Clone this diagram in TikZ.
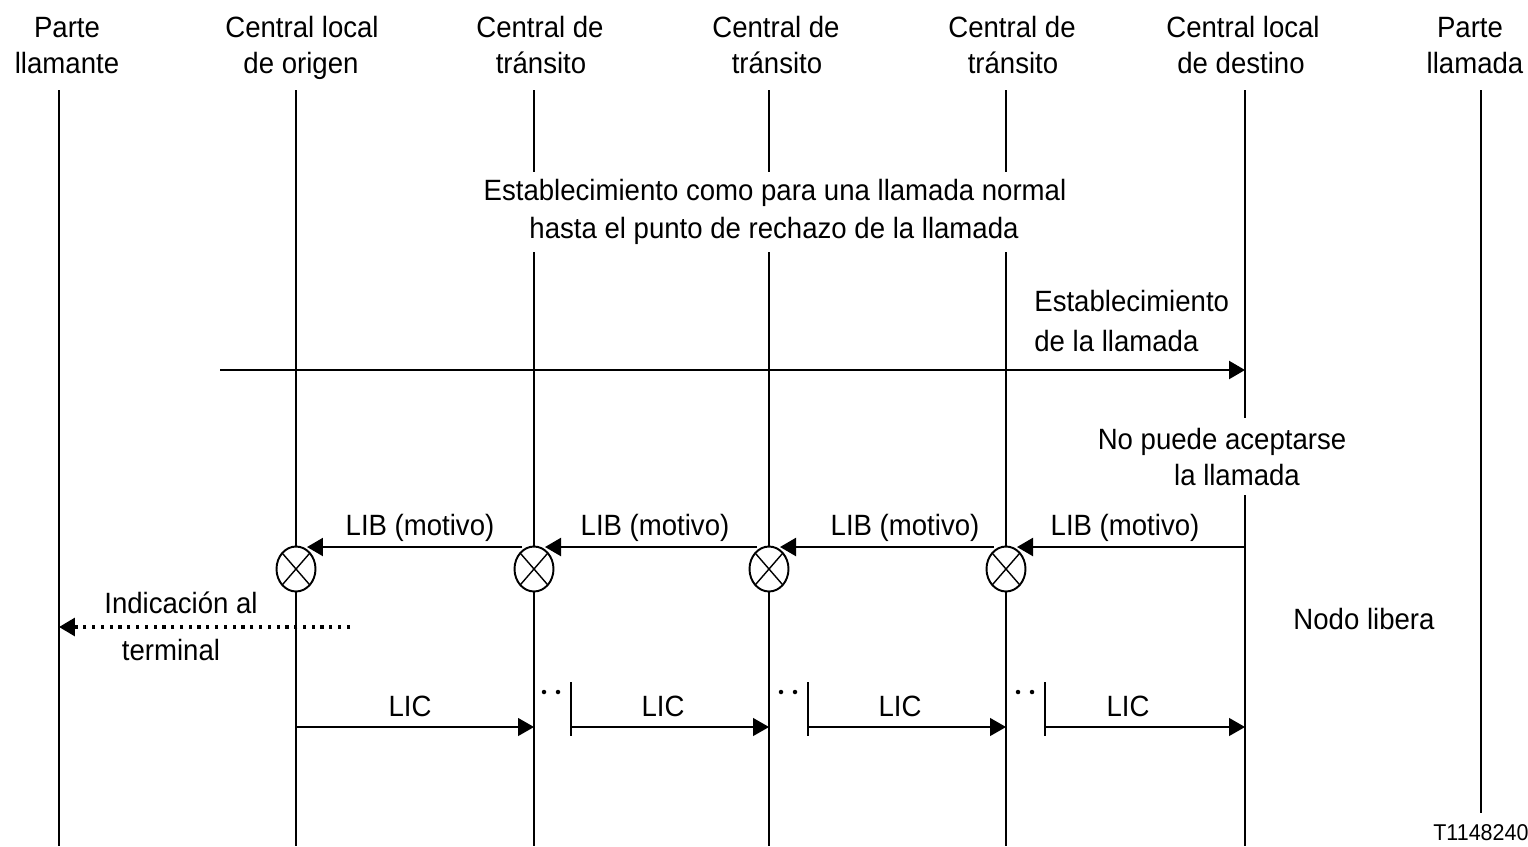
\documentclass[tikz,border=0pt]{standalone}
\usepackage{fontspec}
\setmainfont{Liberation Sans}[FakeStretch=0.94]
\usetikzlibrary{arrows.meta,shapes.geometric}
\tikzset{
  lbl/.style={font=\fontsize{16.7}{20}\selectfont, inner sep=0pt, anchor=base},
  small/.style={font=\fontsize{13}{15}\selectfont, inner sep=0pt, anchor=base west},
  life/.style={line width=1.3pt},
  tip/.style={-{Triangle[length=0.32cm,width=0.36cm]}},
  msg/.style={line width=1.3pt, tip},
  lic/.style={line width=0.7pt, tip},
  bar/.style={line width=0.7pt},
  dotmsg/.style={line width=1.8pt, dash pattern=on 1.8pt off 3.2pt, tip},
  xcirc/.style={ellipse, draw, line width=1.1pt, fill=white, minimum width=0.78cm, minimum height=0.9cm, inner sep=0pt,
    path picture={\draw[line width=0.8pt] (path picture bounding box.south west) -- (path picture bounding box.north east)
      (path picture bounding box.north west) -- (path picture bounding box.south east);}},
}
\begin{document}
\begin{tikzpicture}[x=0.02cm,y=-0.02cm]
\useasboundingbox (0,0) rectangle (1528,846);
% header labels
\node[lbl] (h1a) at (67,37) {Parte};
\node[lbl] (h1b) at (67,73) {llamante};
\node[lbl] (h2a) at (302,37) {Central local};
\node[lbl] (h2b) at (301,73) {de origen};
\node[lbl] (h3a) at (540,37) {Central de};
\node[lbl] (h3b) at (541,73) {tránsito};
\node[lbl] (h4a) at (776,37) {Central de};
\node[lbl] (h4b) at (777,73) {tránsito};
\node[lbl] (h5a) at (1012,37) {Central de};
\node[lbl] (h5b) at (1013,73) {tránsito};
\node[lbl] (h6a) at (1243,37) {Central local};
\node[lbl] (h6b) at (1241,73) {de destino};
\node[lbl] (h7a) at (1470,37) {Parte};
\node[lbl] (h7b) at (1475,73) {llamada};
% lifeline coordinates
\foreach \n/\x in {1/59,2/296,3/534,4/769,5/1006,6/1245,7/1481}{
  \coordinate (t\n) at (\x,90);
  \coordinate (b\n) at (\x,846);
}
\draw[life] (t1) -- (b1);
\draw[life] (t2) -- (b2);
\foreach \n in {3,4,5}{
  \draw[life] (t\n) -- (t\n |- 0,172);
  \draw[life] (t\n |- 0,252) -- (b\n);
}
\draw[life] (t6) -- (t6 |- 0,418);
\draw[life] (t6 |- 0,495) -- (b6);
\draw[life] (t7) -- (t7 |- 0,813);
% central text
\node[lbl] (e1) at (775,200) {Establecimiento como para una llamada normal};
\node[lbl] (e2) at (774,238) {hasta el punto de rechazo de la llamada};
% call setup
\node[lbl, anchor=base west] (s1) at (1034,311) {Establecimiento};
\node[lbl, anchor=base west] (s2) at (1034,351) {de la llamada};
\coordinate (s0) at (220,370);
\draw[msg] (s0) -- (t6 |- s0);
% rejection
\node[lbl] (r1) at (1222,449) {No puede aceptarse};
\node[lbl] (r2) at (1237,485) {la llamada};
% crossed circles
\node[xcirc] (c2) at (296,569) {};
\node[xcirc] (c3) at (534,569) {};
\node[xcirc] (c4) at (769,569) {};
\node[xcirc] (c5) at (1006,569) {};
% LIB messages
\draw[msg] (t6 |- 0,547) -- ([xshift=0.22cm]c5.center |- 0,547);
\draw[msg] ([xshift=-0.24cm]c5.center |- 0,547) -- ([xshift=0.22cm]c4.center |- 0,547);
\draw[msg] ([xshift=-0.24cm]c4.center |- 0,547) -- ([xshift=0.22cm]c3.center |- 0,547);
\draw[msg] ([xshift=-0.24cm]c3.center |- 0,547) -- ([xshift=0.22cm]c2.center |- 0,547);
\node[lbl] (l4) at (1125,535) {LIB (motivo)};
\node[lbl] (l3) at (905,535) {LIB (motivo)};
\node[lbl] (l2) at (655,535) {LIB (motivo)};
\node[lbl] (l1) at (420,535) {LIB (motivo)};
% indication to terminal
\node[lbl] (i1) at (181,613) {Indicación al};
\node[lbl] (i2) at (171,660) {terminal};
\coordinate (d0) at (350,627);
\draw[dotmsg] (d0) -- (t1 |- d0);
\node[lbl] (nl) at (1364,629) {Nodo libera};
% LIC messages
\coordinate (k2) at (571,727);
\coordinate (k3) at (808,727);
\coordinate (k4) at (1045,727);
\draw[lic] (t2 |- 0,727) -- (t3 |- 0,727);
\draw[lic] (k2) -- (t4 |- k2);
\draw[lic] (k3) -- (t5 |- k3);
\draw[lic] (k4) -- (t6 |- k4);
\foreach \k in {k2,k3,k4}{
  \draw[bar] (\k |- 0,682) -- (\k |- 0,736);
}
\foreach \x in {544,558,781,795,1018,1032}{
  \fill (\x,692) circle (0.045cm);
}
\node[lbl] (m1) at (410,716) {LIC};
\node[lbl] (m2) at (663,716) {LIC};
\node[lbl] (m3) at (900,716) {LIC};
\node[lbl] (m4) at (1128,716) {LIC};
\node[small] (id) at (1433,840) {T1148240};
\end{tikzpicture}
\end{document}
